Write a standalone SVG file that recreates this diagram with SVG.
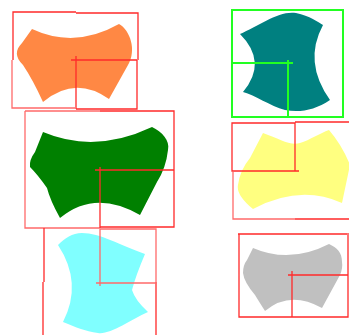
<svg xmlns="http://www.w3.org/2000/svg" width="349" height="335" viewBox="0 0 349 335">
<style>
.r{fill:none;stroke:#ff2a2a;stroke-width:1.3}
.rl{fill:none;stroke:#ff6a6a;stroke-width:1.3}
.g{fill:none;stroke:#22ff22;stroke-width:2}
</style>
<rect width="349" height="335" fill="#ffffff"/>
<g id="orange">
<path fill="#ff8844" d="M32,29 Q75,49 119,24 C130,30 137,50 128,65 L109,99 Q75,75 43,102 Q33,80 23,65 C15,57 15,50 22,43 Z"/>
<path class="r" d="M13,60 V12 H76 M76,13 H138 V60 M137,60 V109 H76 M71,60 H137 M76,56 V109"/>
<path class="rl" d="M12,60 V108 H75"/>
</g>
<g id="teal">
<path fill="#008080" d="M240,34 C258,26 280,10 296,13 C310,16 318,22 323,25 Q303,62 330,100 C315,110 300,113 285,110 C270,106 255,95 243,92 Q268,62 240,34 Z"/>
<path class="g" d="M232,10 H343 V117 H232 Z M232,63 H293 M288,60 V117"/>
</g>
<g id="green">
<path fill="#008000" d="M43,132 Q95,154 152,127 C162,132 170,140 168,150 Q166,168 157,182 L140,215 Q95,189 60,218 Q50,200 47,188 Q38,175 30,167 Q29,160 35,152 Z"/>
<path class="rl" d="M25,111 H100 M25,111 V228 H100"/>
<path class="r" d="M100,111 H174 V227 H100 M95,170 H174 M100,167 V228"/>
</g>
<g id="yellow">
<path fill="#ffff80" d="M263,133 C280,139 290,146 300,143 C310,140 320,133 329,130 Q342,145 350,165 L342,203 Q300,184 253,209 Q236,195 238,185 Q240,170 250,158 Z"/>
<path class="r" d="M295,171 V123 H232 V171 H299 M295,122 H349 M295,219 H349"/>
<path class="rl" d="M233,172 V219 H295"/>
</g>
<g id="cyan">
<path fill="#80ffff" d="M58,245 C65,238 72,233 82,233 C100,233 120,245 145,254 Q136,275 132,290 Q135,300 148,312 C130,320 110,335 98,333 C85,331 75,327 63,322 Q83,283 58,245 Z"/>
<path class="r" d="M44,228 V282 M43,282 V335 M156,282 V335"/>
<path class="rl" d="M100,229 H156 V283 H96 M100,229 V286"/>
</g>
<g id="gray">
<path fill="#c0c0c0" d="M253,248 Q290,264 329,244 C337,248 342,252 342,262 Q343,268 340,275 L322,308 Q290,290 265,311 Q258,300 255,295 Q244,282 243,273 Q243,265 247,260 Z"/>
<path class="r" d="M238,234 H347 M239,234 V317 H348 V233 M288,275 H348 M292,271 V317"/>
</g>
</svg>
